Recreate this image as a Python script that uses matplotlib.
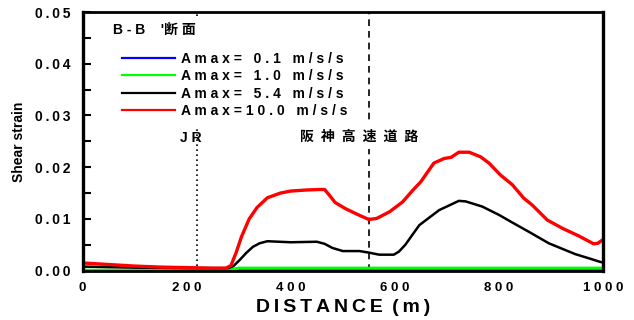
import matplotlib
matplotlib.use("Agg")
import matplotlib.pyplot as plt
from matplotlib.ticker import MultipleLocator, FixedLocator

plt.rcParams['font.family'] = ['Liberation Sans', 'Noto Sans CJK JP', 'DejaVu Sans']
plt.rcParams['font.weight'] = 'bold'

# ---- data ----
red_x = [0, 50, 100, 150, 200, 250, 275, 285, 295, 305, 320, 335, 355, 380, 400, 430, 455, 465,
         475, 485, 505, 530, 550, 565, 590, 615, 635, 650, 675, 695, 708, 723, 743, 765, 781,
         803, 826, 848, 864, 893, 922, 954, 982, 990, 1000]
red_y = [0.0015, 0.0012, 0.0009, 0.0007, 0.0006, 0.0005, 0.0005, 0.0010, 0.0035, 0.0065, 0.0100,
         0.0122, 0.0141, 0.0150, 0.0154, 0.0156, 0.0157, 0.0157, 0.0145, 0.0132, 0.0120, 0.0108,
         0.0099, 0.0101, 0.0114, 0.0133, 0.0156, 0.0172, 0.0208, 0.0217, 0.0219, 0.0229, 0.0229,
         0.0220, 0.0208, 0.0185, 0.0166, 0.0140, 0.0127, 0.0098, 0.0082, 0.0067, 0.0052, 0.0053,
         0.0060]
black_x = [0, 100, 200, 280, 290, 302, 315, 327, 340, 355, 400, 450, 465, 480, 500, 532, 550, 570,
           598, 608, 620, 647, 685, 723, 736, 768, 800, 826, 858, 896, 947, 973, 995, 1000]
black_y = [0.0008, 0.0006, 0.0005, 0.0005, 0.0009, 0.0021, 0.0035, 0.0046, 0.0053, 0.0057, 0.0055,
           0.0056, 0.0052, 0.0044, 0.0038, 0.0038, 0.0035, 0.0031, 0.0031, 0.0037, 0.0050, 0.0088,
           0.0117, 0.0135, 0.0134, 0.0124, 0.0108, 0.0093, 0.0075, 0.0053, 0.0032, 0.0024, 0.0017,
           0.0016]
green_x = [0, 280, 300, 500, 800, 1000]
green_y = [0.0001, 0.0001, 0.0005, 0.0005, 0.0005, 0.0005]
blue_x = [0, 300, 600, 1000]
blue_y = [0.00003, 0.00005, 0.0001, 0.00015]

labels = ["A m a x =   0 . 1   m / s / s",
          "A m a x =   1 . 0   m / s / s",
          "A m a x =   5 . 4   m / s / s",
          "A m a x = 1 0 . 0   m / s / s"]
title = "B - B    '断 面"
jr_label = "J R"
hanshin_label = "阪\u2002神\u2002高\u2002速\u2002道\u2002路"
jr_x = 220
hanshin_x = 550
xticks = [0, 200, 400, 600, 800, 1000]
yticks = [0.00, 0.01, 0.02, 0.03, 0.04, 0.05]

fig = plt.figure(figsize=(6.34, 3.2), dpi=100)
ax = fig.add_axes([0.1304, 0.154, 0.8206, 0.8085])

ax.axvline(jr_x, color='black', linestyle=(0, (1, 2)), linewidth=1.2, zorder=1)
ax.axvline(hanshin_x, color='black', linestyle=(0, (4, 3)), linewidth=1.2, zorder=1)

l1, = ax.plot(blue_x, blue_y, color='#0000ff', linewidth=2, zorder=3)
l2, = ax.plot(green_x, green_y, color='#00ff00', linewidth=2.2, zorder=4)
l3, = ax.plot(black_x, black_y, color='black', linewidth=1.8, zorder=5)
l4, = ax.plot(red_x, red_y, color='#ff0000', linewidth=2.4, zorder=6)

ax.set_xlim(0, 1000)
ax.set_ylim(0, 0.05)

ax.xaxis.set_major_locator(FixedLocator(xticks))
ax.set_xticklabels([" ".join(str(v)) for v in xticks], fontsize=9.5, fontweight='bold')
ax.xaxis.set_minor_locator(MultipleLocator(100))
ax.yaxis.set_major_locator(FixedLocator(yticks))
ax.set_yticklabels(["\u2009".join(f"{v:.2f}") for v in yticks], fontsize=10, fontweight='bold')
ax.yaxis.set_minor_locator(MultipleLocator(0.005))

ax.tick_params(axis='y', which='both', direction='in', length=6, width=1.5, pad=9)
ax.tick_params(axis='x', which='major', direction='in', length=3, width=2, pad=8)
ax.tick_params(axis='x', which='minor', direction='in', length=1.5, width=1)

for name, s in ax.spines.items():
    s.set_linewidth(2.4 if name in ('left', 'right') else 2)
    s.set_zorder(10)

ax.set_xlabel("D\u2009I\u2009S\u2009T\u2009A\u2009N\u2009C\u2009E\u2009 (\u2009m\u2009)",
              fontsize=14, fontweight='bold', labelpad=4)
ax.set_ylabel("Shear strain", fontsize=10, fontweight='bold', labelpad=6)

leg = ax.legend([l1, l2, l3, l4], labels, loc='upper left',
                bbox_to_anchor=(0.054, 0.89), frameon=True, fancybox=False,
                handlelength=3.8, handletextpad=0.47, labelspacing=0.25,
                borderpad=0.8, borderaxespad=0.0, prop={'size': 10, 'weight': 'bold'})
leg.get_frame().set_facecolor('white')
leg.get_frame().set_edgecolor('none')
leg.get_frame().set_alpha(1)
leg.set_zorder(7)
for h in leg.get_lines():
    h.set_linewidth(1.6)

ax.text(0.058, 0.93, title, transform=ax.transAxes, fontsize=10, fontweight='bold',
        ha='left', va='center', zorder=8,
        bbox=dict(facecolor='white', edgecolor='none', pad=5))

ax.text(208, 0.0257, jr_label, fontsize=10, fontweight='bold', ha='center', va='center', zorder=8)
ax.text(530.6, 0.0259, hanshin_label, fontsize=10,
        fontweight='bold', ha='center', va='center', zorder=8,
        bbox=dict(facecolor='white', edgecolor='none', pad=4))

fig.savefig("out.png", dpi=100)
